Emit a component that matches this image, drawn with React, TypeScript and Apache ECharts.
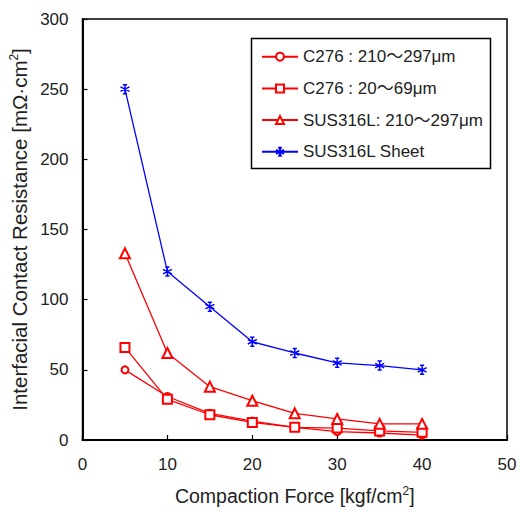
import React, { useEffect, useRef } from "react";
import * as echarts from "echarts";

const forces = [5, 10, 15, 20, 25, 30, 35, 40];
const c276Coarse = [50, 31, 19, 13.5, 9, 6, 5, 3.5];
const c276Fine = [66, 29, 18, 12.5, 9, 8.5, 6.5, 5.5];
const sus316Powder = [133, 62, 38, 28, 19, 15, 11.5, 11.5];
const sus316Sheet = [250, 120, 95, 70, 62, 55, 53, 50];

const seriesNames = [
  "C276 : 210～297μm",
  "C276 : 20～69μm",
  "SUS316L: 210～297μm",
  "SUS316L Sheet",
];

const FONT = "'Liberation Sans', Arial, 'Noto Sans CJK JP', sans-serif";
const STAR =
  "path://M5,0L5,10M0.7,2.5L9.3,7.5M0.7,7.5L9.3,2.5M3,0L7,0M3,10L7,10";

function pairs(vals: number[]) {
  return forces.map((f, i) => [f, vals[i]]);
}

export default function App() {
  const ref = useRef<HTMLDivElement>(null);
  useEffect(() => {
    if (!ref.current) return;
    const chart = echarts.init(ref.current, undefined, { renderer: "svg" });
    const red = "#ff0000";
    const blue = "#0000ff";
    const mk = (name: string, data: number[], color: string, symbol: string, size: number) => ({
      name,
      type: "line",
      data: pairs(data),
      symbol,
      symbolSize: size,
      lineStyle: { color, width: 1.3 },
      itemStyle: { color, borderColor: color, borderWidth: 1.2 },
      emphasis: { disabled: true },
    });
    chart.setOption({
      animation: false,
      backgroundColor: "#ffffff",
      textStyle: { fontFamily: FONT },
      grid: {
        left: 80,
        top: 19,
        width: 427,
        height: 421,
        show: true,
        borderColor: "#000",
        borderWidth: 1.5,
        containLabel: false,
      },
      legend: {
        orient: "vertical",
        left: 261,
        top: 46.7,
        padding: 0,
        itemWidth: 36,
        itemHeight: 10,
        itemGap: 11.7,
        data: seriesNames,
        textStyle: { fontSize: 17, color: "#222", lineHeight: 20, fontFamily: FONT },
        selectedMode: false,
      },
      xAxis: {
        type: "value",
        min: 0,
        max: 50,
        interval: 10,
        name: "Compaction Force [kgf/cm{sup|2}]",
        nameLocation: "middle",
        nameGap: 45,
        nameTextStyle: {
          fontSize: 19.5,
          color: "#222",
          fontFamily: FONT,
          rich: { sup: { fontSize: 12, verticalAlign: "top", padding: [0, 0, 9, 0], color: "#222" } },
        },
        axisLine: { show: true, lineStyle: { color: "#000", width: 2 } },
        axisTick: { show: true, inside: true, length: 5, lineStyle: { color: "#000", width: 1.2 } },
        axisLabel: { fontSize: 17, color: "#222", margin: 16, fontFamily: FONT },
        splitLine: { show: false },
      },
      yAxis: {
        type: "value",
        min: 0,
        max: 300,
        interval: 50,
        name: "Interfacial Contact Resistance [mΩ·cm{sup|2}]",
        nameLocation: "middle",
        nameGap: 47,
        nameTextStyle: {
          fontSize: 20.5,
          color: "#222",
          fontFamily: FONT,
          rich: { sup: { fontSize: 12, verticalAlign: "top", padding: [0, 0, 10, 0], color: "#222" } },
        },
        axisLine: { show: true, lineStyle: { color: "#000", width: 2 } },
        axisTick: { show: true, inside: true, length: 5, lineStyle: { color: "#000", width: 1.2 } },
        axisLabel: { fontSize: 17, color: "#222", margin: 14, fontFamily: FONT },
        splitLine: { show: false },
      },
      graphic: [
        {
          type: "rect",
          shape: { x: 251.5, y: 38.5, width: 239, height: 130 },
          style: { fill: "none", stroke: "#000", lineWidth: 1.5 },
          z: 100,
        },
      ],
      series: [
        mk(seriesNames[0], c276Coarse, red, "emptyCircle", 7),
        mk(seriesNames[1], c276Fine, red, "emptyRect", 9),
        mk(seriesNames[2], sus316Powder, red, "emptyTriangle", 10),
        {
          ...mk(seriesNames[3], sus316Sheet, blue, STAR, 9),
          itemStyle: { color: "none", borderColor: blue, borderWidth: 1.5 },
        },
      ],
    });
    return () => chart.dispose();
  }, []);
  return (
    <div
      ref={ref}
      style={{ position: "fixed", left: 0, top: 0, width: 520, height: 515 }}
    />
  );
}
